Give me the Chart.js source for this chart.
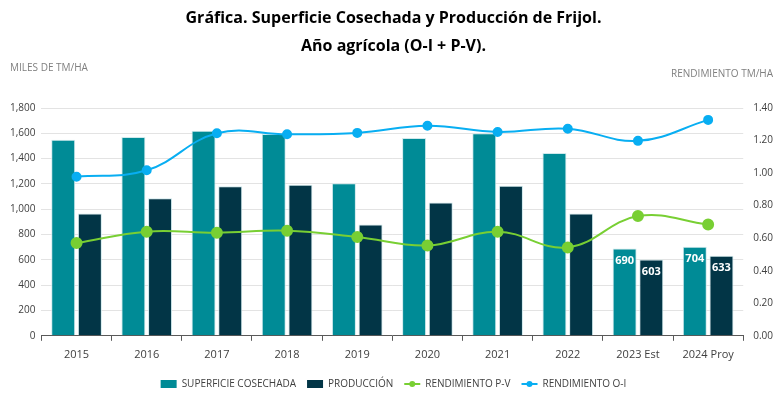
<!DOCTYPE html>
<html>
  <head>
    <title>Frijol</title>
    <script src="https://cdn.jsdelivr.net/npm/chart.js"></script>
    <style>
      body,
      html {
        margin: 0;
        width: 100%;
        height: 100%;
        overflow: hidden;
        background-color: white;
      }
      div {
        width: 783px;
        height: 399px;
      }
    </style>
  </head>
  <body>
    <div>
      <canvas id="chartCanvas"></canvas>
    </div>
    <script>
      const years = ["2015", "2016", "2017", "2018", "2019", "2020", "2021", "2022", "2023 Est", "2024 Proy"];
      const superficie = [1550, 1570, 1620, 1595, 1205, 1562, 1600, 1445, 690, 704];
      const produccion = [966, 1087, 1181, 1193, 879, 1054, 1186, 966, 603, 633];
      const rendPV = [0.57, 0.64, 0.633, 0.646, 0.607, 0.555, 0.64, 0.543, 0.736, 0.684];
      const rendOI = [0.978, 1.017, 1.245, 1.239, 1.247, 1.291, 1.253, 1.273, 1.198, 1.327];
      const labeledBars = [8, 9]; // only the last two years carry value labels

      const FONT = "'Open Sans', sans-serif";

      // axis captions + bar value labels + dots on legend lines
      const extras = {
        id: "extras",
        afterDraw(chart) {
          const c = chart.ctx;
          c.save();
          c.fillStyle = "#7f7f7f";
          c.font = "10px " + FONT;
          c.textBaseline = "middle";
          c.textAlign = "left";
          c.fillText("MILES DE TM/HA", 10, 68);
          c.textAlign = "right";
          c.fillText("RENDIMIENTO TM/HA", 773, 74);

          c.fillStyle = "white";
          c.font = "bold 11px " + FONT;
          c.textAlign = "center";
          [0, 1].forEach(function (di) {
            const meta = chart.getDatasetMeta(di);
            labeledBars.forEach(function (i) {
              const bar = meta.data[i];
              const v = chart.data.datasets[di].data[i];
              c.fillText(String(v), bar.x, bar.y + 12);
            });
          });

          const lg = chart.legend;
          lg.legendItems.forEach(function (item, i) {
            if (item.pointStyle !== "line") return;
            const box = lg.legendHitBoxes[i];
            c.beginPath();
            c.fillStyle = item.strokeStyle;
            c.arc(box.left + 8, box.top + box.height / 2, 3, 0, Math.PI * 2);
            c.fill();
          });
          c.restore();
        },
      };

      const ctx = document.getElementById("chartCanvas");

      const chart = new Chart(ctx, {
        type: "bar",
        data: {
          labels: years,
          datasets: [
            {
              label: "SUPERFICIE COSECHADA",
              data: superficie,
              backgroundColor: "#008b96",
              borderColor: "#cfe9ec",
              borderWidth: 1,
              yAxisID: "y",
              order: 2,
            },
            {
              label: "PRODUCCIÓN",
              data: produccion,
              backgroundColor: "#023546",
              borderColor: "#cfe9ec",
              borderWidth: 1,
              yAxisID: "y",
              order: 2,
            },
            {
              type: "line",
              label: "RENDIMIENTO P-V",
              data: rendPV,
              borderColor: "#78cf33",
              backgroundColor: "#78cf33",
              borderWidth: 2,
              pointRadius: 5,
              tension: 0.4,
              yAxisID: "y1",
              order: 1,
            },
            {
              type: "line",
              label: "RENDIMIENTO O-I",
              data: rendOI,
              borderColor: "#08aef2",
              backgroundColor: "#08aef2",
              borderWidth: 2,
              pointRadius: 4,
              tension: 0.4,
              yAxisID: "y1",
              order: 0,
            },
          ],
        },
        options: {
          responsive: true,
          maintainAspectRatio: false,
          animation: false,
          layout: {
            padding: { left: 4, right: 0, top: 4, bottom: 0 },
          },
          datasets: {
            bar: { categoryPercentage: 0.76, barPercentage: 0.9 },
          },
          scales: {
            x: {
              offset: true,
              grid: {
                offset: true,
                drawOnChartArea: false,
                drawTicks: true,
                tickLength: 5,
                color: "#595959",
              },
              border: { color: "#595959", width: 1 },
              ticks: {
                color: "#404040",
                font: { family: FONT, size: 11 },
                padding: 7,
                maxRotation: 0,
              },
            },
            y: {
              position: "left",
              min: 0,
              max: 1800,
              grid: {
                color: "#e3e3e3",
                drawTicks: false,
              },
              border: { display: false },
              ticks: {
                stepSize: 200,
                color: "#404040",
                font: { family: FONT, size: 10 },
                padding: 6,
                callback: function (v) {
                  return v.toLocaleString("en-US");
                },
              },
            },
            y1: {
              position: "right",
              min: 0,
              max: 1.4,
              grid: { drawOnChartArea: false, drawTicks: false },
              border: { display: false },
              ticks: {
                stepSize: 0.2,
                color: "#404040",
                font: { family: FONT, size: 10 },
                padding: 10,
                callback: function (v) {
                  return v.toFixed(2);
                },
              },
            },
          },
          plugins: {
            title: {
              display: true,
              text: ["Gráfica. Superficie Cosechada y Producción de Frijol.", "Año agrícola (O-I + P-V)."],
              color: "#000000",
              font: { family: FONT, size: 16, weight: "bold", lineHeight: 1.75 },
              padding: { top: 0, bottom: 48 },
            },
            legend: {
              position: "bottom",
              labels: {
                color: "#404040",
                font: { family: FONT, size: 10 },
                usePointStyle: true,
                pointStyleWidth: 16,
                boxHeight: 8,
                padding: 11,
                generateLabels: function (chart) {
                  return chart.data.datasets.map(function (ds, i) {
                    const isLine = ds.type === "line";
                    return {
                      text: ds.label,
                      fillStyle: ds.backgroundColor,
                      strokeStyle: isLine ? ds.borderColor : ds.backgroundColor,
                      lineWidth: isLine ? 2 : 0,
                      pointStyle: isLine ? "line" : "rect",
                      fontColor: "#404040",
                      datasetIndex: i,
                      hidden: false,
                    };
                  });
                },
              },
            },
            tooltip: { enabled: false },
          },
        },
        plugins: [extras],
      });
    </script>
  </body>
</html>
